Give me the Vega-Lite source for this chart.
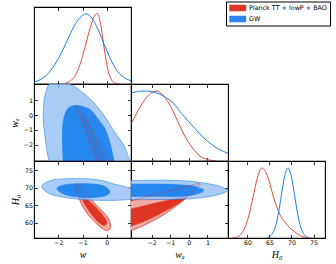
{
"$schema":"https://vega.github.io/schema/vega-lite/v6.json",
"padding":{"left":8,"top":1,"right":3,"bottom":3},
"background":"white",
"spacing":0,
"bounds":"flush",
"columns":3,
"config":{
 "view":{"stroke":"#000","strokeWidth":1.1},
 "axis":{"domain":false,"grid":false,"tickSize":-3.5,"tickColor":"#000","tickWidth":0.8,"labelFont":"DejaVu Sans","labelFontSize":6.3,"labelColor":"#000","labelPadding":5,"labelOverlap":false,"labelFlush":false,"titleFont":"Liberation Serif","titleFontStyle":"italic","titleFontWeight":"normal","titleFontSize":10,"titleColor":"#000","titlePadding":4}
},
"datasets":{
 "leg":[{"s":"Planck TT + lowP + BAO","x":-1,"y":0.5},{"s":"GW","x":-1,"y":0.5}],
 "empty":[{"a":0}],
 "w1b":[{"x":-3,"y":0.027},{"x":-2.75,"y":0.06},{"x":-2.5,"y":0.12},{"x":-2.25,"y":0.22},{"x":-2,"y":0.36},{"x":-1.75,"y":0.53},{"x":-1.5,"y":0.72},{"x":-1.25,"y":0.88},{"x":-1,"y":0.98},{"x":-0.85,"y":1},{"x":-0.6,"y":0.94},{"x":-0.35,"y":0.77},{"x":-0.1,"y":0.56},{"x":0.15,"y":0.36},{"x":0.4,"y":0.2},{"x":0.65,"y":0.11},{"x":1,"y":0.045}],
 "w1r":[{"x":-1.7,"y":0.01},{"x":-1.5,"y":0.045},{"x":-1.3,"y":0.12},{"x":-1.1,"y":0.28},{"x":-0.9,"y":0.52},{"x":-0.7,"y":0.78},{"x":-0.55,"y":0.94},{"x":-0.39,"y":1.01},{"x":-0.25,"y":0.85},{"x":-0.1,"y":0.5},{"x":0.05,"y":0.2},{"x":0.2,"y":0.056},{"x":0.35,"y":0.011},{"x":0.5,"y":0}],
 "wa1b":[{"x":-3.1,"y":0.97},{"x":-2.8,"y":0.99},{"x":-2.4,"y":1.0},{"x":-2.0,"y":0.99},{"x":-1.6,"y":0.96},{"x":-1.2,"y":0.9},{"x":-0.8,"y":0.82},{"x":-0.4,"y":0.68},{"x":0,"y":0.56},{"x":0.4,"y":0.44},{"x":0.8,"y":0.33},{"x":1.2,"y":0.24},{"x":1.6,"y":0.17},{"x":2.1,"y":0.11}],
 "wa1r":[{"x":-3.1,"y":0.53},{"x":-2.8,"y":0.68},{"x":-2.5,"y":0.82},{"x":-2.2,"y":0.93},{"x":-1.9,"y":0.99},{"x":-1.7,"y":1.0},{"x":-1.5,"y":0.97},{"x":-1.2,"y":0.88},{"x":-0.9,"y":0.74},{"x":-0.6,"y":0.57},{"x":-0.3,"y":0.4},{"x":0,"y":0.26},{"x":0.3,"y":0.15},{"x":0.6,"y":0.07},{"x":0.9,"y":0.03},{"x":1.2,"y":0.01},{"x":1.5,"y":0}],
 "h1r":[{"x":56.5,"y":0},{"x":57.5,"y":0.01},{"x":58.5,"y":0.05},{"x":59.5,"y":0.16},{"x":60.5,"y":0.36},{"x":61.5,"y":0.65},{"x":62.5,"y":0.91},{"x":63.3,"y":1.0},{"x":64.0,"y":0.96},{"x":64.8,"y":0.84},{"x":65.5,"y":0.68},{"x":66.2,"y":0.53},{"x":66.7,"y":0.44},{"x":67.5,"y":0.32},{"x":68.6,"y":0.22},{"x":69.7,"y":0.14},{"x":70.9,"y":0.08},{"x":72,"y":0.035},{"x":73.2,"y":0.01},{"x":74.5,"y":0}],
 "h1b":[{"x":64.5,"y":0.007},{"x":65.5,"y":0.048},{"x":66.3,"y":0.154},{"x":67,"y":0.34},{"x":67.7,"y":0.61},{"x":68.4,"y":0.87},{"x":69.2,"y":1},{"x":70,"y":0.87},{"x":70.7,"y":0.61},{"x":71.4,"y":0.34},{"x":72.1,"y":0.154},{"x":72.9,"y":0.048},{"x":73.9,"y":0.007}],
 "r10o":[{"o":0,"x":-1.25,"y":0.65},{"o":1,"x":-1.1,"y":0.45},{"o":2,"x":-0.85,"y":-0.3},{"o":3,"x":-0.55,"y":-1.2},{"o":4,"x":-0.25,"y":-2.2},{"o":5,"x":0.09,"y":-3.1},{"o":6,"x":0.2,"y":-3.7},{"o":7,"x":-0.35,"y":-3.7},{"o":8,"x":-0.32,"y":-3.1},{"o":9,"x":-0.6,"y":-2.1},{"o":10,"x":-0.85,"y":-1.1},{"o":11,"x":-1.1,"y":-0.1},{"o":12,"x":-1.28,"y":0.45}],
 "r10i":[{"o":0,"x":-0.95,"y":-0.15},{"o":1,"x":-0.8,"y":-0.5},{"o":2,"x":-0.5,"y":-1.6},{"o":3,"x":-0.25,"y":-2.6},{"o":4,"x":-0.05,"y":-3.3},{"o":5,"x":-0.2,"y":-3.6},{"o":6,"x":-0.4,"y":-3.1},{"o":7,"x":-0.6,"y":-2.2},{"o":8,"x":-0.85,"y":-1.1},{"o":9,"x":-0.98,"y":-0.4}],
 "b10o":[{"o":0,"x":-2.35,"y":2.15},{"o":1,"x":-1.9,"y":2.3},{"o":2,"x":-1.4,"y":2.0},{"o":3,"x":-0.9,"y":1.4},{"o":4,"x":-0.6,"y":0.95},{"o":5,"x":-0.1,"y":-0.05},{"o":6,"x":0.3,"y":-1.08},{"o":7,"x":0.71,"y":-2.05},{"o":8,"x":0.96,"y":-3.1},{"o":9,"x":1.2,"y":-3.9},{"o":10,"x":0,"y":-4.3},{"o":11,"x":-2.3,"y":-3.9},{"o":12,"x":-2.38,"y":-3.1},{"o":13,"x":-2.46,"y":-2.5},{"o":14,"x":-2.55,"y":-1.4},{"o":15,"x":-2.62,"y":-0.3},{"o":16,"x":-2.6,"y":0.6},{"o":17,"x":-2.55,"y":1.3}],
 "b10i":[{"o":0,"x":-1.6,"y":0.45},{"o":1,"x":-1.25,"y":0.65},{"o":2,"x":-0.85,"y":0.5},{"o":3,"x":-0.6,"y":0.25},{"o":4,"x":-0.3,"y":-0.4},{"o":5,"x":-0.05,"y":-1.0},{"o":6,"x":0.15,"y":-2.0},{"o":7,"x":0.3,"y":-3.1},{"o":8,"x":0.4,"y":-3.9},{"o":9,"x":-1.0,"y":-4.2},{"o":10,"x":-1.78,"y":-3.9},{"o":11,"x":-1.8,"y":-3.1},{"o":12,"x":-1.83,"y":-1.4},{"o":13,"x":-1.78,"y":-0.3}],
 "r20o":[{"o":0,"x":-1.22,"y":71.1},{"o":1,"x":-1.05,"y":70.2},{"o":2,"x":-0.8,"y":67.8},{"o":3,"x":-0.5,"y":65.5},{"o":4,"x":-0.15,"y":63.0},{"o":5,"x":0.08,"y":61.0},{"o":6,"x":0.15,"y":59.0},{"o":7,"x":0.1,"y":58.0},{"o":8,"x":-0.05,"y":57.8},{"o":9,"x":-0.35,"y":59.2},{"o":10,"x":-0.6,"y":61.0},{"o":11,"x":-0.85,"y":63.0},{"o":12,"x":-1.05,"y":65.5},{"o":13,"x":-1.2,"y":68.0},{"o":14,"x":-1.28,"y":70.3}],
 "r20i":[{"o":0,"x":-0.95,"y":67.2},{"o":1,"x":-0.75,"y":66.3},{"o":2,"x":-0.4,"y":64.0},{"o":3,"x":-0.1,"y":61.5},{"o":4,"x":0.0,"y":60.0},{"o":5,"x":-0.05,"y":59.3},{"o":6,"x":-0.15,"y":59.2},{"o":7,"x":-0.4,"y":60.5},{"o":8,"x":-0.65,"y":62.5},{"o":9,"x":-0.85,"y":64.5},{"o":10,"x":-0.98,"y":66.3}],
 "b20o":[{"o":0,"x":-2.68,"y":70.4},{"o":1,"x":-2.4,"y":71.8},{"o":2,"x":-2.0,"y":72.4},{"o":3,"x":-1.0,"y":72.6},{"o":4,"x":-0.2,"y":72.0},{"o":5,"x":0.3,"y":71.0},{"o":6,"x":0.8,"y":70.2},{"o":7,"x":1.2,"y":69.6},{"o":8,"x":1.35,"y":68.5},{"o":9,"x":1.2,"y":67.0},{"o":10,"x":0.5,"y":66.4},{"o":11,"x":-0.5,"y":66.4},{"o":12,"x":-1.2,"y":66.7},{"o":13,"x":-2.0,"y":67.5},{"o":14,"x":-2.45,"y":68.6}],
 "b20i":[{"o":0,"x":-2.05,"y":69.8},{"o":1,"x":-1.8,"y":70.7},{"o":2,"x":-1.2,"y":71.1},{"o":3,"x":-0.5,"y":71.0},{"o":4,"x":-0.05,"y":70.2},{"o":5,"x":0.13,"y":68.7},{"o":6,"x":-0.15,"y":67.5},{"o":7,"x":-0.8,"y":67.15},{"o":8,"x":-1.5,"y":67.6},{"o":9,"x":-1.9,"y":68.6}],
 "r21o":[{"o":0,"x":0.6,"y":70.9},{"o":1,"x":0.3,"y":69.2},{"o":2,"x":-0.5,"y":65.5},{"o":3,"x":-1.5,"y":61.8},{"o":4,"x":-2.5,"y":59.0},{"o":5,"x":-3.3,"y":57.3},{"o":6,"x":-4.0,"y":56.2},{"o":7,"x":-4.0,"y":64.5},{"o":8,"x":-3.1,"y":66.2},{"o":9,"x":-2.0,"y":67.8},{"o":10,"x":-1.0,"y":69.2},{"o":11,"x":0.0,"y":70.5},{"o":12,"x":0.4,"y":71.1}],
 "r21i":[{"o":0,"x":-0.15,"y":67.0},{"o":1,"x":-0.4,"y":66.0},{"o":2,"x":-1.2,"y":63.5},{"o":3,"x":-2.2,"y":60.8},{"o":4,"x":-3.2,"y":58.8},{"o":5,"x":-4.0,"y":57.6},{"o":6,"x":-4.0,"y":63.2},{"o":7,"x":-3.1,"y":63.9},{"o":8,"x":-2.0,"y":65.3},{"o":9,"x":-1.0,"y":66.5},{"o":10,"x":-0.4,"y":67.2}],
 "b21o":[{"o":0,"x":-3.8,"y":71.4},{"o":1,"x":-1.7,"y":72.1},{"o":2,"x":0.1,"y":71.8},{"o":3,"x":1.5,"y":70.6},{"o":4,"x":2.05,"y":69.2},{"o":5,"x":1.5,"y":67.9},{"o":6,"x":0.1,"y":66.8},{"o":7,"x":-1.7,"y":66.6},{"o":8,"x":-3.8,"y":67.0}],
 "b21i":[{"o":0,"x":-3.8,"y":70.6},{"o":1,"x":-1.7,"y":71.0},{"o":2,"x":0.0,"y":70.6},{"o":3,"x":0.6,"y":69.8},{"o":4,"x":0.8,"y":69.2},{"o":5,"x":0.55,"y":68.4},{"o":6,"x":-0.2,"y":67.6},{"o":7,"x":-1.7,"y":67.5},{"o":8,"x":-3.8,"y":67.8}]
},
"concat":[
  {"width":97,"height":77,"resolve":{"axis":{"x":"independent","y":"independent"}},
   "layer":[
    {"data":{"name":"w1r"},"mark":{"type":"line","interpolate":"monotone","color":"#E03424","strokeWidth":0.9,"clip":true},
     "encoding":{"x":{"field":"x","type":"quantitative","scale":{"domain":[-3,1],"nice":false,"zero":false},"axis":{"orient":"bottom","values":[-2,-1,0],"labels":false,"title":null}},
                 "y":{"field":"y","type":"quantitative","scale":{"domain":[0,1.1],"nice":false},"axis":null}}},
    {"data":{"name":"w1b"},"mark":{"type":"line","interpolate":"monotone","color":"#006FED","strokeWidth":0.9,"clip":true},
     "encoding":{"x":{"field":"x","type":"quantitative","scale":{"domain":[-3,1],"nice":false,"zero":false},"axis":{"orient":"top","values":[-2,-1,0],"labels":false,"title":null}},
                 "y":{"field":"y","type":"quantitative","scale":{"domain":[0,1.1],"nice":false},"axis":null}}},
    {"data":{"name":"leg"},"mark":{"type":"square","opacity":0,"filled":true},
     "encoding":{"x":{"field":"x","type":"quantitative","scale":{"domain":[-3,1],"nice":false,"zero":false},"axis":null},
                 "y":{"field":"y","type":"quantitative","scale":{"domain":[0,1.1],"nice":false},"axis":null},
                 "color":{"field":"s","type":"nominal","scale":{"domain":["Planck TT + lowP + BAO","GW"],"range":["#E03424","#2a86ee"]},
                   "legend":{"title":null,"orient":"none","legendX":192,"legendY":-5.5,"symbolType":"M-1,-1H4.2V1H-1Z","symbolSize":42.25,"symbolOpacity":1,"symbolStrokeWidth":0,"labelFont":"DejaVu Sans","labelFontSize":6.4,"labelColor":"#000","labelOffset":13,"padding":3,"rowPadding":4,"strokeColor":"#000","fillColor":"#fff","labelLimit":200}}}}
   ]},
  {"width":97,"height":77,"view":{"stroke":null},"data":{"name":"empty"},"mark":{"type":"point","opacity":0},
   "encoding":{"x":{"field":"a","type":"quantitative","axis":null},"y":{"field":"a","type":"quantitative","axis":null}}},
  {"width":97,"height":77,"view":{"stroke":null},"data":{"name":"empty"},"mark":{"type":"point","opacity":0},
   "encoding":{"x":{"field":"a","type":"quantitative","axis":null},"y":{"field":"a","type":"quantitative","axis":null}}},
  {"width":97,"height":77,"resolve":{"axis":{"x":"independent","y":"independent"}},
   "layer":[
    {"data":{"name":"r10o"},"mark":{"type":"line","interpolate":"cardinal-closed","clip":true,"strokeWidth":0.6,"fill":"#f3a9a4","stroke":"#E03424"},
     "encoding":{"x":{"field":"x","type":"quantitative","scale":{"domain":[-3,1],"nice":false,"zero":false},"axis":{"orient":"bottom","values":[-2,-1,0],"labels":false,"title":null}},
                 "y":{"field":"y","type":"quantitative","scale":{"domain":[-3.1,2.1],"nice":false,"zero":false},"axis":{"orient":"left","values":[-2,-1,0,1],"title":"wₐ"}},
                 "order":{"field":"o","type":"quantitative"}}},
    {"data":{"name":"r10i"},"mark":{"type":"line","interpolate":"cardinal-closed","clip":true,"strokeWidth":0.6,"fill":"#E03424","stroke":"#E03424"},
     "encoding":{"x":{"field":"x","type":"quantitative","axis":null},"y":{"field":"y","type":"quantitative","axis":null},"order":{"field":"o","type":"quantitative"}}},
    {"data":{"name":"b10o"},"mark":{"type":"line","interpolate":"cardinal-closed","clip":true,"strokeWidth":0.6,"fill":"#96c2f3","stroke":"#006FED","opacity":0.82},
     "encoding":{"x":{"field":"x","type":"quantitative","axis":null},"y":{"field":"y","type":"quantitative","axis":null},"order":{"field":"o","type":"quantitative"}}},
    {"data":{"name":"b10i"},"mark":{"type":"line","interpolate":"cardinal-closed","clip":true,"strokeWidth":0.6,"fill":"#0a78ee","stroke":"#006FED","opacity":0.82},
     "encoding":{"x":{"field":"x","type":"quantitative","axis":null},"y":{"field":"y","type":"quantitative","axis":null},"order":{"field":"o","type":"quantitative"}}},
    {"data":{"name":"r10i"},"mark":{"type":"line","interpolate":"cardinal-closed","clip":true,"strokeWidth":0.6,"stroke":"#E03424","opacity":0.45},
     "encoding":{"x":{"field":"x","type":"quantitative","axis":null},"y":{"field":"y","type":"quantitative","axis":null},"order":{"field":"o","type":"quantitative"}}},
    {"data":{"name":"r10o"},"mark":{"type":"line","interpolate":"cardinal-closed","clip":true,"strokeWidth":0.6,"stroke":"#E03424","opacity":0.6},
     "encoding":{"x":{"field":"x","type":"quantitative","axis":{"orient":"top","values":[-2,-1,0],"labels":false,"title":null}},
                 "y":{"field":"y","type":"quantitative","axis":{"orient":"right","values":[-2,-1,0,1],"labels":false,"title":null}},
                 "order":{"field":"o","type":"quantitative"}}}
   ]},
  {"width":97,"height":77,"resolve":{"axis":{"x":"independent","y":"independent"}},
   "layer":[
    {"data":{"name":"wa1r"},"mark":{"type":"line","interpolate":"monotone","color":"#E03424","strokeWidth":0.9,"clip":true},
     "encoding":{"x":{"field":"x","type":"quantitative","scale":{"domain":[-3.1,2.1],"nice":false,"zero":false},"axis":{"orient":"bottom","values":[-2,-1,0,1],"labels":false,"title":null}},
                 "y":{"field":"y","type":"quantitative","scale":{"domain":[0,1.1],"nice":false},"axis":null}}},
    {"data":{"name":"wa1b"},"mark":{"type":"line","interpolate":"monotone","color":"#006FED","strokeWidth":0.9,"clip":true},
     "encoding":{"x":{"field":"x","type":"quantitative","scale":{"domain":[-3.1,2.1],"nice":false,"zero":false},"axis":{"orient":"top","values":[-2,-1,0,1],"labels":false,"title":null}},
                 "y":{"field":"y","type":"quantitative","scale":{"domain":[0,1.1],"nice":false},"axis":null}}}
   ]},
  {"width":97,"height":77,"view":{"stroke":null},"data":{"name":"empty"},"mark":{"type":"point","opacity":0},
   "encoding":{"x":{"field":"a","type":"quantitative","axis":null},"y":{"field":"a","type":"quantitative","axis":null}}},
  {"width":97,"height":77,"resolve":{"axis":{"x":"independent","y":"independent"}},
   "layer":[
    {"data":{"name":"r20o"},"mark":{"type":"line","interpolate":"cardinal-closed","clip":true,"strokeWidth":0.6,"fill":"#f3a9a4","stroke":"#E03424"},
     "encoding":{"x":{"field":"x","type":"quantitative","scale":{"domain":[-3,1],"nice":false,"zero":false},"axis":{"orient":"bottom","values":[-2,-1,0],"title":"w"}},
                 "y":{"field":"y","type":"quantitative","scale":{"domain":[55.6,77.6],"nice":false,"zero":false},"axis":{"orient":"left","values":[60,65,70,75],"title":"H₀"}},
                 "order":{"field":"o","type":"quantitative"}}},
    {"data":{"name":"r20i"},"mark":{"type":"line","interpolate":"cardinal-closed","clip":true,"strokeWidth":0.6,"fill":"#E03424","stroke":"#E03424"},
     "encoding":{"x":{"field":"x","type":"quantitative","axis":null},"y":{"field":"y","type":"quantitative","axis":null},"order":{"field":"o","type":"quantitative"}}},
    {"data":{"name":"b20o"},"mark":{"type":"line","interpolate":"cardinal-closed","clip":true,"strokeWidth":0.6,"fill":"#96c2f3","stroke":"#006FED","opacity":0.82},
     "encoding":{"x":{"field":"x","type":"quantitative","axis":null},"y":{"field":"y","type":"quantitative","axis":null},"order":{"field":"o","type":"quantitative"}}},
    {"data":{"name":"b20i"},"mark":{"type":"line","interpolate":"cardinal-closed","clip":true,"strokeWidth":0.6,"fill":"#0a78ee","stroke":"#006FED","opacity":0.82},
     "encoding":{"x":{"field":"x","type":"quantitative","axis":null},"y":{"field":"y","type":"quantitative","axis":null},"order":{"field":"o","type":"quantitative"}}},
    {"data":{"name":"r20o"},"mark":{"type":"line","interpolate":"cardinal-closed","clip":true,"strokeWidth":0.6,"stroke":"#E03424","opacity":0.6},
     "encoding":{"x":{"field":"x","type":"quantitative","axis":{"orient":"top","values":[-2,-1,0],"labels":false,"title":null}},
                 "y":{"field":"y","type":"quantitative","axis":{"orient":"right","values":[60,65,70,75],"labels":false,"title":null}},
                 "order":{"field":"o","type":"quantitative"}}}
   ]},
  {"width":97,"height":77,"resolve":{"axis":{"x":"independent","y":"independent"}},
   "layer":[
    {"data":{"name":"r21o"},"mark":{"type":"line","interpolate":"cardinal-closed","clip":true,"strokeWidth":0.6,"fill":"#f3a9a4","stroke":"#E03424"},
     "encoding":{"x":{"field":"x","type":"quantitative","scale":{"domain":[-3.1,2.1],"nice":false,"zero":false},"axis":{"orient":"bottom","values":[-2,-1,0,1],"title":"wₐ"}},
                 "y":{"field":"y","type":"quantitative","scale":{"domain":[55.6,77.6],"nice":false,"zero":false},"axis":{"orient":"left","values":[60,65,70,75],"labels":false,"title":null}},
                 "order":{"field":"o","type":"quantitative"}}},
    {"data":{"name":"r21i"},"mark":{"type":"line","interpolate":"cardinal-closed","clip":true,"strokeWidth":0.6,"fill":"#E03424","stroke":"#E03424"},
     "encoding":{"x":{"field":"x","type":"quantitative","axis":null},"y":{"field":"y","type":"quantitative","axis":null},"order":{"field":"o","type":"quantitative"}}},
    {"data":{"name":"b21o"},"mark":{"type":"line","interpolate":"cardinal-closed","clip":true,"strokeWidth":0.6,"fill":"#96c2f3","stroke":"#006FED","opacity":0.82},
     "encoding":{"x":{"field":"x","type":"quantitative","axis":null},"y":{"field":"y","type":"quantitative","axis":null},"order":{"field":"o","type":"quantitative"}}},
    {"data":{"name":"b21i"},"mark":{"type":"line","interpolate":"cardinal-closed","clip":true,"strokeWidth":0.6,"fill":"#0a78ee","stroke":"#006FED","opacity":0.82},
     "encoding":{"x":{"field":"x","type":"quantitative","axis":null},"y":{"field":"y","type":"quantitative","axis":null},"order":{"field":"o","type":"quantitative"}}},
    {"data":{"name":"r21o"},"mark":{"type":"line","interpolate":"cardinal-closed","clip":true,"strokeWidth":0.6,"stroke":"#E03424","opacity":0.6},
     "encoding":{"x":{"field":"x","type":"quantitative","axis":{"orient":"top","values":[-2,-1,0,1],"labels":false,"title":null}},
                 "y":{"field":"y","type":"quantitative","axis":{"orient":"right","values":[60,65,70,75],"labels":false,"title":null}},
                 "order":{"field":"o","type":"quantitative"}}}
   ]},
  {"width":97,"height":77,"resolve":{"axis":{"x":"independent","y":"independent"}},
   "layer":[
    {"data":{"name":"h1r"},"mark":{"type":"line","interpolate":"monotone","color":"#E03424","strokeWidth":0.9,"clip":true},
     "encoding":{"x":{"field":"x","type":"quantitative","scale":{"domain":[55.6,77.6],"nice":false,"zero":false},"axis":{"orient":"bottom","values":[60,65,70,75],"title":"H₀"}},
                 "y":{"field":"y","type":"quantitative","scale":{"domain":[0,1.1],"nice":false},"axis":null}}},
    {"data":{"name":"h1b"},"mark":{"type":"line","interpolate":"monotone","color":"#006FED","strokeWidth":0.9,"clip":true},
     "encoding":{"x":{"field":"x","type":"quantitative","scale":{"domain":[55.6,77.6],"nice":false,"zero":false},"axis":{"orient":"top","values":[60,65,70,75],"labels":false,"title":null}},
                 "y":{"field":"y","type":"quantitative","scale":{"domain":[0,1.1],"nice":false},"axis":null}}}
   ]}
]
}
